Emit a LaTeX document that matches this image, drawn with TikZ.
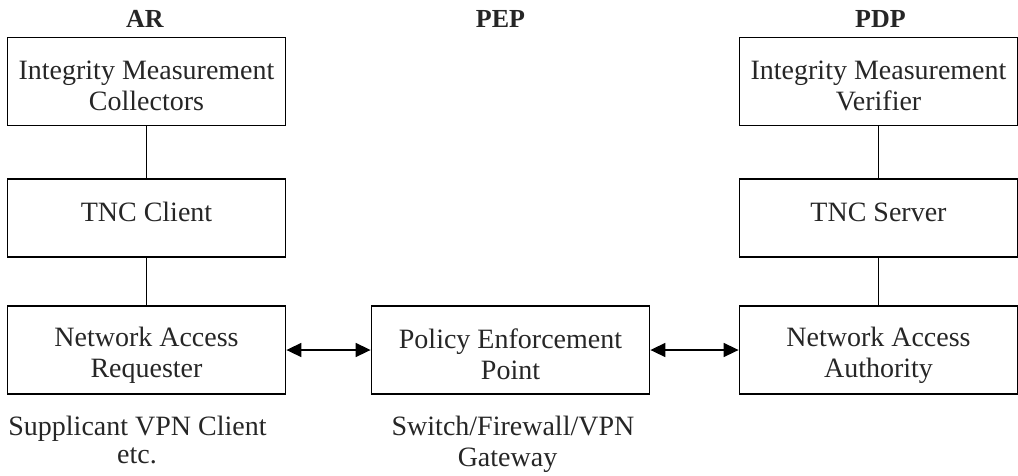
\documentclass[tikz,border=0pt]{standalone}
\usepackage{fontspec}
\setmainfont{Liberation Serif}
\usetikzlibrary{arrows.meta}
\newcommand{\topstrut}{\rule{0pt}{30pt}}
\newcommand{\botstrut}{\rule[-3pt]{0pt}{3pt}}
\newcommand{\onestrut}{\rule[-18pt]{0pt}{42pt}}
\begin{document}
\begin{tikzpicture}[x=1pt,y=-1pt,
  box/.style={draw, line width=1.8pt, minimum width=278pt, inner sep=0pt, align=center,
    font=\fontsize{28}{31}\selectfont, text=black!85},
  head/.style={font=\bfseries\fontsize{26}{30}\selectfont, anchor=base, text=black!85},
  note/.style={font=\fontsize{28}{31}\selectfont, anchor=base, text=black!85},
  link/.style={line width=1.5pt},
  biarrow/.style={line width=1.6pt, {Triangle[length=15pt,width=14pt]}-{Triangle[length=15pt,width=14pt]}}]
\useasboundingbox (0,0) rectangle (1018,475);
% headings
\node[head] (hAR) at (145,27.5) {AR};
\node[head] (hPEP) at (500.5,27.5) {PEP};
\node[head] (hPDP) at (880.5,27.5) {PDP};
% left column
\node[box, minimum height=88pt] (imc) at (146.5,81.5) {\topstrut Integrity Measurement\\Collectors\botstrut};
\node[box, minimum height=78pt] (tncc) at (146.5,218) {\onestrut TNC Client};
\node[box, minimum height=88pt] (nar) at (146.5,350) {\topstrut Network Access\\Requester\botstrut};
% middle
\node[box, minimum height=88pt] (pep) at (510.5,350) {\topstrut Policy Enforcement\\Point\botstrut};
% right column
\node[box, minimum height=88pt] (imv) at (878.5,81.5) {\topstrut Integrity Measurement\\Verifier\botstrut};
\node[box, minimum height=78pt] (tncs) at (878.5,218) {\onestrut TNC Server};
\node[box, minimum height=88pt] (naa) at (878.5,350) {\topstrut Network Access\\Authority\botstrut};
% connectors
\draw[link] (imc) -- (tncc);
\draw[link] (tncc) -- (nar);
\draw[link] (imv) -- (tncs);
\draw[link] (tncs) -- (naa);
\draw[biarrow] (nar) -- (pep);
\draw[biarrow] (pep) -- (naa);
% notes
\node[note] (n1a) at (137.5,435) {Supplicant VPN Client};
\node[note] (n1b) at (137,463) {etc.};
\node[note] (n2a) at (513,435) {Switch/Firewall/VPN};
\node[note] (n2b) at (507.5,466) {Gateway};
\end{tikzpicture}
\end{document}
